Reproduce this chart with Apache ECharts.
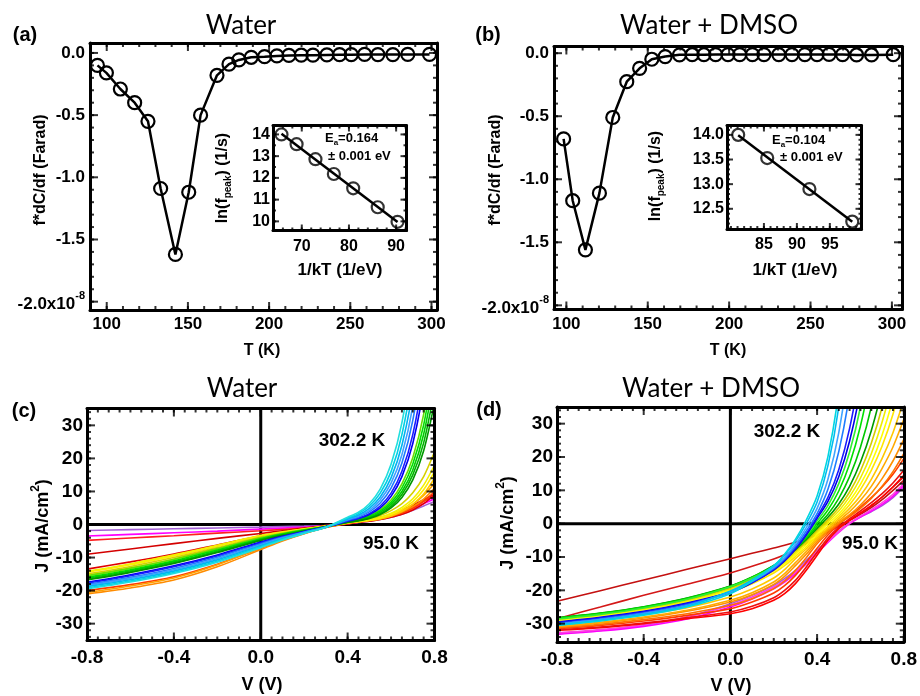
<!DOCTYPE html>
<html>
<head>
<meta charset="utf-8">
<script src="https://cdn.jsdelivr.net/npm/echarts@6/dist/echarts.min.js"></script>
<style>
  html, body { margin: 0; padding: 0; background: #fff; }
  #chart { width: 920px; height: 696px; }
</style>
</head>
<body>
<div id="chart"></div>
<script>
// ---------- (a)/(b): f*dC/df versus temperature (values in units of 1e-8 F) ----------
const tempWater = [94.3, 99.8, 108.4, 117.2, 125.4, 133.2, 142.3, 150.5, 157.8, 167.9, 175.3, 181.4, 189.0,
  197.2, 204.8, 212.2, 219.8, 227.0, 235.6, 243.4, 250.6, 258.8, 267.0, 276.2, 285.4, 298.8];
const dcWater = [-0.10, -0.16, -0.29, -0.40, -0.55, -1.09, -1.62, -1.12, -0.50, -0.18, -0.09, -0.056, -0.035,
  -0.030, -0.024, -0.020, -0.018, -0.018, -0.016, -0.014, -0.014, -0.012, -0.013, -0.013, -0.012, -0.012];
const tempDmso = [98.3, 103.9, 111.7, 120.3, 128.5, 137.1, 145.0, 152.5, 160.7, 169.5, 177.3, 184.5, 191.7,
  199.3, 206.5, 214.3, 221.4, 230.5, 238.6, 246.5, 254.0, 261.4, 269.7, 278.3, 287.5, 300.8];
const dcDmso = [-0.68, -1.17, -1.56, -1.11, -0.51, -0.226, -0.12, -0.048, -0.027, -0.013, -0.012, -0.012, -0.011,
  -0.011, -0.011, -0.011, -0.011, -0.011, -0.011, -0.011, -0.011, -0.010, -0.011, -0.014, -0.014, -0.012];

// ---------- insets: Arrhenius plots ln(f_peak) vs 1/kT ----------
const invKTWater = [65.7, 68.9, 72.9, 76.8, 80.9, 86.1, 90.3];
const lnFWater = [14.0, 13.55, 12.86, 12.18, 11.52, 10.65, 9.98];
const invKTDmso = [81.1, 85.5, 91.9, 98.4];
const lnFDmso = [14.0, 13.53, 12.90, 12.24];

// ---------- (c) J–V curves, water (one row per temperature, 95.0 K … 302.2 K) ----------
const biasWater = [-0.8, -0.6, -0.4, -0.2, 0, 0.1, 0.2, 0.3, 0.4, 0.45, 0.5, 0.55, 0.6, 0.65, 0.7, 0.75, 0.8];
const jWater = [
  [-1.8, -1.55, -1.3, -1.05, -0.8, -0.65, -0.5, -0.3, 0.3, 0.6, 1.0, 1.5, 2.2, 3.1, 4.3, 5.6, 7.0],
  [-3.5, -3.0, -2.5, -2.0, -1.4, -1.1, -0.8, -0.4, 0.3, 0.7, 1.2, 1.8, 2.6, 3.6, 4.9, 6.3, 7.8],
  [-4.8, -4.1, -3.4, -2.6, -1.9, -1.5, -1.1, -0.6, 0.2, 0.7, 1.3, 2.0, 2.9, 4.0, 5.4, 7.0, 8.6],
  [-9.0, -7.4, -5.8, -4.2, -2.7, -1.9, -1.1, -0.3, 0.3, 0.8, 1.4, 2.1, 3.1, 4.3, 5.8, 7.5, 9.2],
  [-13.5, -11.3, -8.9, -6.2, -3.4, -2.3, -1.3, -0.5, 0.3, 0.7, 1.0, 1.5, 2.2, 3.1, 4.4, 6.3, 9.0],
  [-20.0, -18.2, -15.8, -12.0, -7.2, -4.8, -2.7, -0.9, 0.4, 0.8, 1.2, 1.7, 2.4, 3.4, 4.9, 7.0, 10.0],
  [-21.0, -19.2, -16.8, -12.8, -7.6, -5.0, -2.8, -0.9, 0.5, 0.9, 1.3, 1.8, 2.6, 3.8, 5.4, 7.7, 11.0],
  [-20.6, -18.6, -16.2, -12.2, -7.0, -4.6, -2.6, -0.8, 0.6, 1.0, 1.5, 2.1, 3.0, 4.3, 6.1, 8.8, 12.5],
  [-15.5, -13.2, -10.5, -7.4, -4.2, -2.9, -1.7, -0.6, 0.4, 0.8, 1.2, 1.7, 2.6, 4.0, 6.1, 9.2, 14.0],
  [-14.5, -12.2, -9.5, -6.6, -3.6, -2.4, -1.4, -0.5, 0.5, 0.9, 1.3, 2.0, 3.0, 4.6, 6.9, 10.5, 16.0],
  [-14.2, -11.9, -9.2, -6.3, -3.3, -2.2, -1.3, -0.5, 0.6, 1.0, 1.5, 2.2, 3.4, 5.2, 7.8, 11.9, 18.0],
  [-15.0, -12.7, -10.0, -7.0, -3.8, -2.6, -1.5, -0.6, 0.7, 1.2, 1.8, 2.7, 4.2, 6.3, 9.6, 14.5, 22.0],
  [-15.5, -13.2, -10.5, -7.3, -4.0, -2.7, -1.6, -0.6, 1.0, 1.7, 2.7, 4.5, 7.4, 12.3, 20.2, 33.3, 54.9],
  [-16.0, -13.7, -11.0, -7.7, -4.3, -2.9, -1.7, -0.6, 0.9, 1.5, 2.5, 4.1, 6.7, 11.1, 18.3, 30.1, 49.7],
  [-16.3, -14.0, -11.3, -8.0, -4.5, -3.0, -1.8, -0.6, 0.8, 1.4, 2.2, 3.7, 6.1, 10.0, 16.5, 27.3, 45.0],
  [-16.6, -14.3, -11.6, -8.3, -4.7, -3.2, -1.9, -0.7, 0.7, 1.2, 2.0, 3.3, 5.5, 9.1, 15.0, 24.7, 40.7],
  [-16.8, -14.5, -11.8, -8.5, -4.8, -3.3, -2.0, -0.7, 0.6, 1.1, 1.8, 3.0, 5.0, 8.2, 13.5, 22.3, 36.8],
  [-17.5, -15.2, -12.5, -9.2, -5.3, -3.6, -2.1, -0.7, 1.0, 1.8, 3.0, 5.0, 8.5, 14.5, 24.5, 41.5, 70.0],
  [-17.8, -15.5, -12.8, -9.5, -5.5, -3.7, -2.2, -0.7, 1.1, 1.9, 3.3, 5.6, 9.5, 16.1, 27.2, 46.0, 78.0],
  [-18.2, -16.0, -13.3, -9.9, -5.8, -3.9, -2.3, -0.8, 1.3, 2.3, 3.8, 6.5, 11.0, 18.6, 31.5, 53.0, 91.0],
  [-18.5, -16.3, -13.7, -10.3, -6.1, -4.1, -2.4, -0.8, 1.5, 2.6, 4.3, 7.4, 12.5, 21.1, 35.8, 61.0, 103.0],
  [-18.8, -16.7, -14.1, -10.7, -6.4, -4.3, -2.5, -0.8, 1.7, 2.9, 4.9, 8.3, 14.1, 24.0, 40.7, 69.0, 117.0],
  [-19.2, -17.1, -14.5, -11.1, -6.7, -4.5, -2.6, -0.8, 1.9, 3.3, 5.6, 9.5, 16.0, 27.2, 46.0, 78.0, 132.0],
  [-19.5, -17.4, -14.8, -11.4, -7.0, -4.7, -2.7, -0.8, 2.2, 3.7, 6.3, 10.7, 18.2, 30.8, 52.2, 88.5, 150.0]
];
const colorsWater = ['#a35fd6', '#ff00ff', '#ff2020', '#d40000', '#e00000', '#ff3c00', '#ff8c00', '#ffa000',
  '#ffc800', '#ffee00', '#f2f200', '#d6d000', '#66e000', '#00e000', '#00cc00', '#00b400', '#009600',
  '#0000f0', '#1a1aff', '#1e7cff', '#3fa0ff', '#00b4f0', '#00d0e4', '#22dede'];

// ---------- (d) J–V curves, water + DMSO ----------
const biasDmso = [-0.8, -0.6, -0.4, -0.2, 0, 0.1, 0.2, 0.25, 0.3, 0.35, 0.4, 0.45, 0.5, 0.55, 0.6, 0.65, 0.7, 0.75, 0.8];
const jDmso = [
  [-23.3, -20.1, -16.9, -13.7, -10.5, -8.9, -7.3, -6.5, -5.6, -4.6, -3.4, -2.0, -0.5, 1.0, 2.8, 4.8, 7.2, 10.0, 13.0],
  [-28.5, -25.0, -21.5, -18.2, -14.8, -12.8, -10.6, -9.3, -7.8, -6.0, -4.2, -2.5, -0.8, 1.0, 3.0, 5.3, 8.0, 11.0, 14.0],
  [-33.0, -32.0, -30.5, -28.0, -24.0, -21.5, -18.5, -16.5, -14.0, -11.0, -8.0, -5.0, -2.2, 0.2, 2.0, 3.6, 5.4, 7.8, 11.0],
  [-33.2, -32.2, -30.8, -28.6, -25.0, -22.6, -19.5, -17.5, -15.0, -12.0, -8.8, -5.6, -2.6, 0.0, 2.0, 3.8, 5.8, 8.2, 11.5],
  [-32.8, -31.8, -30.3, -28.0, -24.5, -22.0, -19.0, -17.0, -14.5, -11.6, -8.4, -5.3, -2.4, 0.2, 2.3, 4.2, 6.3, 8.8, 12.0],
  [-32.0, -31.2, -30.0, -28.5, -27.0, -25.5, -23.0, -21.0, -18.0, -14.0, -9.5, -5.0, -1.5, 1.0, 3.2, 5.5, 8.0, 11.0, 14.5],
  [-31.8, -31.0, -29.8, -28.2, -26.5, -24.8, -22.2, -20.0, -17.0, -13.0, -8.6, -4.3, -1.0, 1.5, 3.8, 6.3, 9.0, 12.2, 16.0],
  [-31.5, -30.5, -29.2, -27.5, -25.5, -23.5, -20.8, -18.6, -15.5, -11.6, -7.4, -3.4, -0.2, 2.4, 5.0, 7.8, 11.0, 14.8, 19.5],
  [-31.2, -30.2, -28.8, -27.0, -24.5, -22.5, -19.5, -17.2, -14.0, -10.2, -6.0, -2.8, 0.0, 2.1, 4.6, 7.6, 11.2, 15.6, 21.0],
  [-31.0, -29.8, -28.3, -26.3, -23.5, -21.3, -18.2, -15.8, -12.6, -9.2, -5.4, -2.2, 0.4, 2.7, 5.6, 9.1, 13.5, 18.8, 25.3],
  [-30.8, -29.6, -28.0, -26.0, -23.0, -20.7, -17.5, -15.0, -11.7, -8.4, -4.8, -1.7, 0.9, 3.6, 7.0, 11.2, 16.6, 23.0, 31.3],
  [-30.2, -29.0, -27.3, -25.2, -22.0, -19.6, -16.3, -13.8, -10.5, -7.6, -4.4, -1.3, 1.5, 4.6, 8.4, 13.3, 19.6, 27.3, 37.1],
  [-29.5, -28.2, -26.4, -24.0, -20.5, -18.0, -14.8, -12.6, -9.8, -7.0, -3.8, -0.8, 2.2, 5.7, 10.2, 16.0, 23.3, 32.8, 45.0],
  [-29.0, -27.6, -25.8, -23.4, -20.0, -17.5, -14.2, -12.0, -9.2, -6.4, -3.2, 0.0, 2.9, 6.8, 11.8, 18.2, 26.6, 37.4, 51.5],
  [-28.8, -27.4, -25.6, -23.1, -19.6, -17.0, -13.7, -11.5, -8.7, -5.8, -2.6, 0.6, 3.8, 8.1, 13.7, 21.0, 30.5, 42.9, 59.1],
  [-28.5, -27.1, -25.3, -22.8, -19.3, -16.7, -13.3, -11.0, -8.2, -5.3, -2.0, 1.2, 4.8, 9.5, 15.8, 24.1, 35.0, 49.5, 68.5],
  [-28.2, -26.8, -24.9, -22.3, -18.7, -16.0, -12.5, -10.4, -7.8, -4.8, -1.4, 1.9, 5.9, 11.2, 18.4, 27.9, 40.5, 57.4, 80.0],
  [-28.3, -26.9, -25.0, -22.4, -18.8, -16.1, -12.6, -10.4, -7.6, -4.4, -0.8, 2.8, 7.6, 14.1, 22.9, 35.0, 51.6, 74.1, 105.0],
  [-28.4, -27.0, -25.1, -22.5, -18.9, -16.2, -12.8, -10.4, -7.4, -4.0, 0.0, 4.1, 9.8, 17.9, 29.3, 45.3, 67.7, 100.0, 145.0],
  [-28.6, -27.2, -25.3, -22.7, -18.9, -16.3, -12.9, -10.5, -7.4, -3.6, 0.8, 5.4, 12.0, 21.5, 35.0, 54.4, 82.0, 122.0, 180.0],
  [-29.5, -28.1, -26.3, -23.8, -20.5, -17.7, -13.9, -11.2, -7.7, -3.4, 1.6, 6.7, 14.1, 24.8, 40.2, 62.5, 94.5, 140.0, 205.0],
  [-29.7, -28.3, -26.5, -24.0, -20.7, -17.7, -13.7, -10.9, -7.4, -3.0, 2.1, 7.9, 16.2, 28.6, 46.7, 73.3, 112.0, 170.0, 255.0],
  [-30.0, -28.6, -26.8, -24.3, -20.5, -17.4, -13.4, -10.5, -6.8, -2.2, 3.0, 10.3, 21.6, 39.1, 66.5, 108.0, 175.0, 275.0, 420.0],
  [-30.2, -28.8, -27.0, -24.6, -20.5, -17.3, -13.1, -10.1, -6.2, -1.2, 4.6, 13.3, 27.3, 49.6, 85.0, 140.0, 225.0, 350.0, 530.0],
  [-30.4, -29.0, -27.2, -24.8, -20.2, -16.9, -12.6, -9.4, -5.3, 0.0, 6.5, 17.4, 35.0, 64.0, 112.0, 185.0, 290.0, 440.0, 640.0],
  [-30.5, -29.2, -27.5, -25.0, -21.0, -17.2, -12.7, -9.2, -4.7, 1.1, 8.3, 20.1, 39.7, 72.0, 125.0, 200.0, 300.0, 450.0, 650.0]
];
const colorsDmso = ['#c41010', '#d41818', '#a55bd6', '#ff00ff', '#ff40e0', '#ff0000', '#ee1010', '#ff3a00',
  '#ff7000', '#ff9000', '#ffaa00', '#ffc800', '#ffe600', '#ffff00', '#eeee00', '#d2cc00', '#009a00',
  '#00c800', '#00e000', '#33ee33', '#0000e6', '#1a1aff', '#1e7cff', '#3fa4ff', '#00bcf0', '#00d6e0'];

// ---------- tick values ----------
const tTicks = [100, 150, 200, 250, 300];
const dcTicks = [-2.0, -1.5, -1.0, -0.5, 0.0];
const insetWaterXTicks = [70, 80, 90];
const insetWaterYTicks = [10, 11, 12, 13, 14];
const insetDmsoXTicks = [85, 90, 95];
const insetDmsoYTicks = [12.5, 13.0, 13.5, 14.0];
const vTicks = [-0.8, -0.4, 0.0, 0.4, 0.8];
const jTicks = [-30, -20, -10, 0, 10, 20, 30];

const FONT = '"Liberation Sans", Arial, Helvetica, sans-serif';

function steps(a, b, s) {
  const out = [];
  const n = Math.round((b - a) / s);
  for (let i = 0; i <= n; i++) out.push(+(a + i * s).toFixed(6));
  return out;
}

const grids = [], xAxes = [], yAxes = [], series = [];

function makeAxis(g, range, pos, ticks, label) {
  return {
    type: 'value', gridIndex: g, position: pos, min: range[0], max: range[1], z: 10,
    axisLine: { show: true, onZero: false, lineStyle: { color: '#000', width: 3 } },
    splitLine: { show: false },
    axisPointer: { show: false },
    axisTick: { show: false },
    axisLabel: label ? Object.assign({ show: true, customValues: ticks, color: '#000',
      fontFamily: FONT, fontWeight: 'bold' }, label) : { show: false }
  };
}

// Inward tick marks on all four sides: thin rectangles anchored on the box edges.
function tickMarks(p) {
  const out = [];
  const xt = (vals, len) => vals.forEach(v => {
    if (v < p.x[0] || v > p.x[1]) return;
    out.push({ value: [v, p.y[0]], symbolSize: [2, len], symbolOffset: [0, -len / 2] });
    out.push({ value: [v, p.y[1]], symbolSize: [2, len], symbolOffset: [0, len / 2] });
  });
  const yt = (vals, len) => vals.forEach(v => {
    if (v < p.y[0] || v > p.y[1]) return;
    out.push({ value: [p.x[0], v], symbolSize: [len, 2], symbolOffset: [len / 2, 0] });
    out.push({ value: [p.x[1], v], symbolSize: [len, 2], symbolOffset: [-len / 2, 0] });
  });
  xt(p.xMajor, p.major); xt(p.xMinor, p.minor);
  yt(p.yMajor, p.major); yt(p.yMinor, p.minor);
  return out;
}

// One boxed panel: axis lines on all four sides, labels on bottom and left, inward ticks.
function addPanel(p) {
  const g = grids.length;
  grids.push({ left: p.box[0], top: p.box[1], width: p.box[2], height: p.box[3], show: false });
  const xi = xAxes.length, yi = yAxes.length;
  xAxes.push(makeAxis(g, p.x, 'bottom', p.xMajor, p.xLabel));
  xAxes.push(makeAxis(g, p.x, 'top', p.xMajor, null));
  yAxes.push(makeAxis(g, p.y, 'left', p.yMajor, p.yLabel));
  yAxes.push(makeAxis(g, p.y, 'right', p.yMajor, null));
  series.push({ type: 'scatter', xAxisIndex: xi, yAxisIndex: yi, z: 8, silent: true, clip: false,
    symbol: 'rect', data: tickMarks(p), itemStyle: { color: '#000' } });
  return { xi, yi, x: p.x, y: p.y };
}

const dcLabel = {
  fontSize: 17, margin: 5,
  formatter: v => Math.abs(v + 2) < 1e-9 ? '{m|-2.0x10}{e|-8}' : v.toFixed(1),
  rich: {
    m: { fontSize: 17, fontWeight: 'bold', fontFamily: FONT, color: '#000', verticalAlign: 'bottom', lineHeight: 22 },
    e: { fontSize: 11, fontWeight: 'bold', fontFamily: FONT, color: '#000', verticalAlign: 'top', lineHeight: 11 }
  }
};

const pA = addPanel({ box: [90, 43, 347, 267], x: [89.7, 303.4], y: [-2.067, 0.08],
  xMajor: tTicks, xMinor: steps(90, 300, 10), yMajor: dcTicks, yMinor: steps(-2.0, 0, 0.1),
  major: 8, minor: 4, xLabel: { fontSize: 17, margin: 6, formatter: v => String(v) }, yLabel: dcLabel });
const pB = addPanel({ box: [554, 46.5, 348, 263], x: [92.4, 306.2], y: [-2.033, 0.053],
  xMajor: tTicks, xMinor: steps(100, 300, 10), yMajor: dcTicks, yMinor: steps(-2.0, 0, 0.1),
  major: 8, minor: 4, xLabel: { fontSize: 17, margin: 6, formatter: v => String(v) }, yLabel: dcLabel });
const iA = addPanel({ box: [273, 125.5, 133.5, 105], x: [63.9, 92.2], y: [9.58, 14.41],
  xMajor: insetWaterXTicks, xMinor: steps(64, 92, 2), yMajor: insetWaterYTicks, yMinor: steps(10, 14, 0.5),
  major: 6, minor: 3, xLabel: { fontSize: 16, margin: 8, formatter: v => String(v) },
  yLabel: { fontSize: 16, margin: 3, formatter: v => String(v) } });
const iB = addPanel({ box: [727, 125.5, 134.5, 103.5], x: [79.4, 99.8], y: [12.09, 14.19],
  xMajor: insetDmsoXTicks, xMinor: steps(80, 99, 1), yMajor: insetDmsoYTicks, yMinor: steps(12.1, 14.1, 0.1),
  major: 6, minor: 3, xLabel: { fontSize: 16, margin: 8, formatter: v => String(v) },
  yLabel: { fontSize: 16, margin: 3, formatter: v => v.toFixed(1) } });
const pC = addPanel({ box: [87, 408.5, 347.5, 232], x: [-0.8, 0.8], y: [-35.1, 35.1],
  xMajor: vTicks, xMinor: steps(-0.8, 0.8, 0.05), yMajor: jTicks, yMinor: steps(-34, 34, 2),
  major: 8, minor: 4, xLabel: { fontSize: 19, margin: 8, formatter: v => v.toFixed(1) },
  yLabel: { fontSize: 19, margin: 4, formatter: v => String(v) } });
const pD = addPanel({ box: [557, 407, 348, 235], x: [-0.8, 0.8], y: [-35.5, 35],
  xMajor: vTicks, xMinor: steps(-0.8, 0.8, 0.05), yMajor: jTicks, yMinor: steps(-34, 34, 2),
  major: 8, minor: 4, xLabel: { fontSize: 19, margin: 8, formatter: v => v.toFixed(1) },
  yLabel: { fontSize: 19, margin: 4, formatter: v => String(v) } });

// f*dC/df curves with hollow circle markers
function dcSeries(p, xs, ys) {
  return {
    type: 'line', xAxisIndex: p.xi, yAxisIndex: p.yi, z: 5,
    data: xs.map((x, i) => [x, ys[i]]),
    symbol: 'circle', symbolSize: 13, showSymbol: true,
    lineStyle: { color: '#000', width: 2.5 },
    itemStyle: { color: 'rgba(0,0,0,0)', borderColor: '#000', borderWidth: 2.2 }
  };
}
series.push(dcSeries(pA, tempWater, dcWater));
series.push(dcSeries(pB, tempDmso, dcDmso));

// Arrhenius insets: least-squares line plus measured points
function fitLine(xs, ys) {
  const n = xs.length;
  const mx = xs.reduce((a, b) => a + b, 0) / n, my = ys.reduce((a, b) => a + b, 0) / n;
  let sxy = 0, sxx = 0;
  for (let i = 0; i < n; i++) { sxy += (xs[i] - mx) * (ys[i] - my); sxx += (xs[i] - mx) * (xs[i] - mx); }
  const b = sxy / sxx, a = my - b * mx;
  return [[xs[0], a + b * xs[0]], [xs[n - 1], a + b * xs[n - 1]]];
}
function insetSeries(p, xs, ys) {
  series.push({ type: 'line', xAxisIndex: p.xi, yAxisIndex: p.yi, z: 6, data: fitLine(xs, ys),
    symbol: 'none', lineStyle: { color: '#000', width: 2.5 } });
  series.push({ type: 'scatter', xAxisIndex: p.xi, yAxisIndex: p.yi, z: 7,
    data: xs.map((x, i) => [x, ys[i]]), symbol: 'circle', symbolSize: 12,
    itemStyle: { color: 'rgba(0,0,0,0)', borderColor: '#000', borderWidth: 2.2 } });
}
insetSeries(iA, invKTWater, lnFWater);
insetSeries(iB, invKTDmso, lnFDmso);

// Zero lines (beneath the curves) and the J–V families
[pC, pD].forEach(p => {
  series.push({ type: 'line', xAxisIndex: p.xi, yAxisIndex: p.yi, z: 2, silent: true,
    data: [[p.x[0], 0], [p.x[1], 0]], symbol: 'none', lineStyle: { color: '#000', width: 3 } });
  series.push({ type: 'line', xAxisIndex: p.xi, yAxisIndex: p.yi, z: 2, silent: true,
    data: [[0, p.y[0]], [0, p.y[1]]], symbol: 'none', lineStyle: { color: '#000', width: 3 } });
});
function ivSeries(p, bias, rows, colors) {
  rows.forEach((row, i) => {
    series.push({
      type: 'line', xAxisIndex: p.xi, yAxisIndex: p.yi, z: 3,
      data: bias.map((v, k) => [v, row[k]]),
      smooth: 0.3, symbol: 'none', clip: true,
      lineStyle: { color: colors[i], width: 1.6 }
    });
  });
}
ivSeries(pC, biasWater, jWater, colorsWater);
ivSeries(pD, biasDmso, jDmso, colorsDmso);

// ---------- text: titles, panel letters, axis names, annotations ----------
function label(x, y, text, size, extra) {
  return Object.assign({
    type: 'text', x: x, y: y, z: 100,
    style: Object.assign({ text: text, fill: '#000', fontSize: size, fontWeight: 'bold', fontFamily: FONT,
      align: 'center', verticalAlign: 'middle' }, extra && extra.style)
  }, extra && extra.el);
}
function title(x, y, text) {
  return { type: 'text', x: x, y: y, z: 100,
    style: { text: text, fill: '#000', fontSize: 26, fontFamily: 'Lato, "Open Sans", sans-serif',
      align: 'center', verticalAlign: 'middle' } };
}
const up = { el: { rotation: Math.PI / 2 } };
const supRich = (size) => ({
  n: { fontSize: size, fontWeight: 'bold', fontFamily: FONT, fill: '#000', verticalAlign: 'bottom', lineHeight: size + 4 },
  s: { fontSize: Math.round(size * 0.65), fontWeight: 'bold', fontFamily: FONT, fill: '#000', verticalAlign: 'top', lineHeight: Math.round(size * 0.65) }
});
const subRich = (size) => ({
  n: { fontSize: size, fontWeight: 'bold', fontFamily: FONT, fill: '#000', verticalAlign: 'top', lineHeight: size + 2 },
  s: { fontSize: Math.round(size * 0.65), fontWeight: 'bold', fontFamily: FONT, fill: '#000', verticalAlign: 'bottom', lineHeight: Math.round(size * 0.65) }
});

const graphics = [
  title(241, 26, 'Water'),
  title(709, 26, 'Water + DMSO'),
  title(242, 389, 'Water'),
  title(711, 389, 'Water + DMSO'),
  label(25, 35, '(a)', 20),
  label(488, 35, '(b)', 20),
  label(24, 411, '(c)', 20),
  label(489, 410, '(d)', 20),
  label(41, 170, 'f*dC/df (Farad)', 16, up),
  label(496, 170, 'f*dC/df (Farad)', 16, up),
  label(262, 351, 'T (K)', 16),
  label(728, 351, 'T (K)', 16),
  label(224, 178, '', 16, { el: { rotation: Math.PI / 2 },
    style: { text: '{n|ln(f}{s|peak}{n|) (1/s)}', rich: subRich(16) } }),
  label(657, 176, '', 16, { el: { rotation: Math.PI / 2 },
    style: { text: '{n|ln(f}{s|peak}{n|) (1/s)}', rich: subRich(16) } }),
  label(340, 270, '1/kT (1/eV)', 17),
  label(795, 270, '1/kT (1/eV)', 17),
  label(325, 139, '', 13, { style: { text: '{n|E}{s|a}{n|=0.164}', rich: subRich(13), align: 'left' } }),
  label(328, 156, '\u00b1 0.001 eV', 13, { style: { align: 'left' } }),
  label(772, 141, '', 13, { style: { text: '{n|E}{s|a}{n|=0.104}', rich: subRich(13), align: 'left' } }),
  label(780, 157, '\u00b1 0.001 eV', 13, { style: { align: 'left' } }),
  label(41, 526, '', 18, { el: { rotation: Math.PI / 2 },
    style: { text: '{n|J (mA/cm}{s|2}{n|)}', rich: supRich(18) } }),
  label(506, 523, '', 18, { el: { rotation: Math.PI / 2 },
    style: { text: '{n|J (mA/cm}{s|2}{n|)}', rich: supRich(18) } }),
  label(262, 685, 'V (V)', 18),
  label(731, 686, 'V (V)', 18),
  label(352, 441, '302.2 K', 19),
  label(391, 544, '95.0 K', 19),
  label(787, 432, '302.2 K', 19),
  label(870, 544, '95.0 K', 19)
];

const chart = echarts.init(document.getElementById('chart'), null, { renderer: 'canvas' });
chart.setOption({
  animation: false,
  backgroundColor: '#fff',
  grid: grids,
  xAxis: xAxes,
  yAxis: yAxes,
  series: series,
  graphic: { elements: graphics }
});
</script>
</body>
</html>
